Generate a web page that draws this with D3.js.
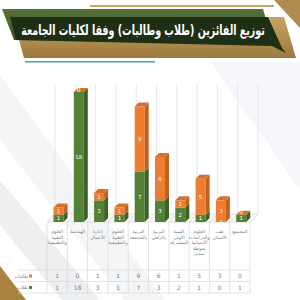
<!DOCTYPE html>
<html><head><meta charset="utf-8">
<script src="https://cdn.jsdelivr.net/npm/d3@7"></script>
<style>html,body{margin:0;padding:0;background:#fff;}svg{display:block;}</style>
</head><body>
<svg id="c" width="300" height="300"></svg>
<script>
const title = "توزيع الفائزين (طلاب وطالبات) وفقا لكليات الجامعة";
const categories = [
  ["العلوم","الطبية","والتطبيقية"],
  ["الهندسة"],
  ["إدارة","الأعمال"],
  ["العلوم","الطبية","والتطبيقية"],
  ["التربية","بالمجمعة"],
  ["التربية","بالزلفي"],
  ["السنة","الأولى","المشتركة"],
  ["العلوم","والدراسات","الإنسانية","بحوطة","سدير"],
  ["طب","الأسنان"],
  ["المجتمع"]
];
const seriesNames = ["طالبات","طلاب"];
const femaleValues = [1,0,1,1,9,6,1,5,3,0];
const maleValues   = [1,18,3,1,7,3,2,1,0,1];

const svg = d3.select("#c");
const font = "DejaVu Sans, Noto Sans, sans-serif";
const defs = svg.append("defs");

// ---- background decoration ----
const bg = svg.append("g");
bg.append("polygon").attr("points","0,75 0,140 125,300 165,300").attr("fill","#f4f5f6");
bg.append("polygon").attr("points","0,180 0,225 62,300 100,300").attr("fill","#eeeff1");
bg.append("polygon").attr("points","0,266 0,300 26,300").attr("fill","#a8823e");
bg.append("polygon").attr("points","210,62 300,62 300,190").attr("fill","#f5f7fa");
bg.append("polygon").attr("points","274,0 300,0 300,28").attr("fill","#b08d4e");
bg.append("rect").attr("x",90).attr("y",5).attr("width",184).attr("height",2).attr("fill","#c9a661");
const goldGrad = defs.append("linearGradient").attr("id","gold").attr("x1",0).attr("y1",0).attr("x2",0).attr("y2",1);
goldGrad.append("stop").attr("offset","0").attr("stop-color","#c8a462");
goldGrad.append("stop").attr("offset","1").attr("stop-color","#9c7a3c");
bg.append("polygon").attr("points","18,36 270,36 268,17 284,17 296,58 24,58").attr("fill","url(#gold)");
const gg = defs.append("linearGradient").attr("id","grn").attr("x1",0).attr("y1",0).attr("x2",0).attr("y2",1);
gg.append("stop").attr("offset","0").attr("stop-color","#56703a");
gg.append("stop").attr("offset","1").attr("stop-color","#3a5224");
bg.append("polygon").attr("points","2,9 263,9 272,40 272,44 14,40").attr("fill","url(#grn)");
bg.append("polygon").attr("points","10,17 268,17 282,48 286,53 272,46 16,40").attr("fill","#1f2f15");
bg.append("rect").attr("x",25).attr("y",61).attr("width",130).attr("height",1.5).attr("fill","#3fae8a");

const tt = svg.append("text").attr("x",0).attr("y",0).attr("text-anchor","middle")
  .attr("font-family",font).attr("font-weight","bold").attr("font-size",11)
  .attr("fill","#ffffff").text(title);
const natW = tt.node().getComputedTextLength();
const sx = 244 / natW;
tt.attr("transform",`translate(143,35) scale(${sx},1.3)`);

// ---- chart ----
const x = d3.scaleBand().domain(d3.range(categories.length)).range([47,250]).padding(0);
const y = d3.scaleLinear().domain([0,18]).range([222,92]);
const bw = x.bandwidth();
const depth = 4, wallOff = 8;
const gridTop = 84, floorY = 222;

const chart = svg.append("g");
const bounds = d3.range(categories.length+1).map(i => 47 + i*bw);
chart.append("polygon")
  .attr("points",`47,${floorY} 250,${floorY} ${250+wallOff},${floorY-wallOff} ${47+wallOff},${floorY-wallOff}`)
  .attr("fill","#f7f7f7").attr("stroke","#d9d9d9").attr("stroke-width",0.7);
bounds.forEach(b=>{
  chart.append("line").attr("x1",b+wallOff).attr("x2",b+wallOff).attr("y1",gridTop).attr("y2",floorY-wallOff)
    .attr("stroke","#e2e2e2").attr("stroke-width",0.8);
  chart.append("line").attr("x1",b).attr("x2",b+wallOff).attr("y1",floorY).attr("y2",floorY-wallOff)
    .attr("stroke","#d9d9d9").attr("stroke-width",0.7);
});

const stack = categories.map((c,i)=>[
  {v:maleValues[i], y0:0, y1:maleValues[i], col:["#548235","#3d6126","#6a9a45"]},
  {v:femaleValues[i], y0:maleValues[i], y1:maleValues[i]+femaleValues[i], col:["#ed7d31","#c2611f","#d8702a"]}
]);
const fw = 10;
stack.forEach((segs,i)=>{
  const x0 = x(i) + 6.5;
  const g = chart.append("g");
  segs.forEach(s=>{
    const yt = y(s.y1), yb = y(s.y0);
    g.append("rect").attr("x",x0).attr("y",yt).attr("width",fw).attr("height",yb-yt).attr("fill",s.col[0]);
    g.append("polygon").attr("points",`${x0+fw},${yt} ${x0+fw+depth},${yt-depth} ${x0+fw+depth},${yb-depth} ${x0+fw},${yb}`)
      .attr("fill",s.col[1]);
  });
  const top = segs[segs.length-1];
  const yt = y(top.y1);
  g.append("polygon").attr("points",`${x0},${yt} ${x0+depth},${yt-depth} ${x0+fw+depth},${yt-depth} ${x0+fw},${yt}`)
    .attr("fill",top.col[2]);
  segs.forEach(s=>{
    let yc = (y(s.y0)+y(s.y1))/2 + 2;
    if (s.v === 0 && s.y0 > 0) yc = y(s.y1) - 0.5;
    g.append("text").attr("x",x0+fw/2).attr("y",yc).attr("text-anchor","middle")
      .attr("font-family",font).attr("font-size",5.5).attr("fill","#ffffff").text(s.v);
  });
});

// ---- data table ----
const tbl = svg.append("g");
const rowY = [270,281.5,293];
bounds.forEach(b=>{
  tbl.append("line").attr("x1",b).attr("x2",b).attr("y1",floorY).attr("y2",293).attr("stroke","#d9d9d9").attr("stroke-width",0.7);
});
rowY.forEach(r=>{
  tbl.append("line").attr("x1",18).attr("x2",250).attr("y1",r).attr("y2",r).attr("stroke","#d9d9d9").attr("stroke-width",0.7);
});
categories.forEach((lines,i)=>{
  lines.forEach((ln,k)=>{
    tbl.append("text").attr("x",x(i)+bw/2).attr("y",233+k*5.6).attr("text-anchor","middle")
      .attr("font-family",font).attr("font-size",4.7).attr("fill","#7f7f7f").text(ln);
  });
  tbl.append("text").attr("x",x(i)+bw/2).attr("y",278).attr("text-anchor","middle")
    .attr("font-family",font).attr("font-size",6).attr("fill","#7f7f7f").text(femaleValues[i]);
  tbl.append("text").attr("x",x(i)+bw/2).attr("y",289.5).attr("text-anchor","middle")
    .attr("font-family",font).attr("font-size",6).attr("fill","#7f7f7f").text(maleValues[i]);
});
const legCols = ["#ed7d31","#548235"];
seriesNames.forEach((n,k)=>{
  const yy = [276,287.5][k];
  tbl.append("rect").attr("x",29).attr("y",yy-1.5).attr("width",3).attr("height",3).attr("fill",legCols[k]);
  tbl.append("text").attr("x",28).attr("y",yy+1.7).attr("text-anchor","end")
    .attr("font-family",font).attr("font-size",4.7).attr("fill","#7f7f7f").text(n);
});
</script>
</body></html>
